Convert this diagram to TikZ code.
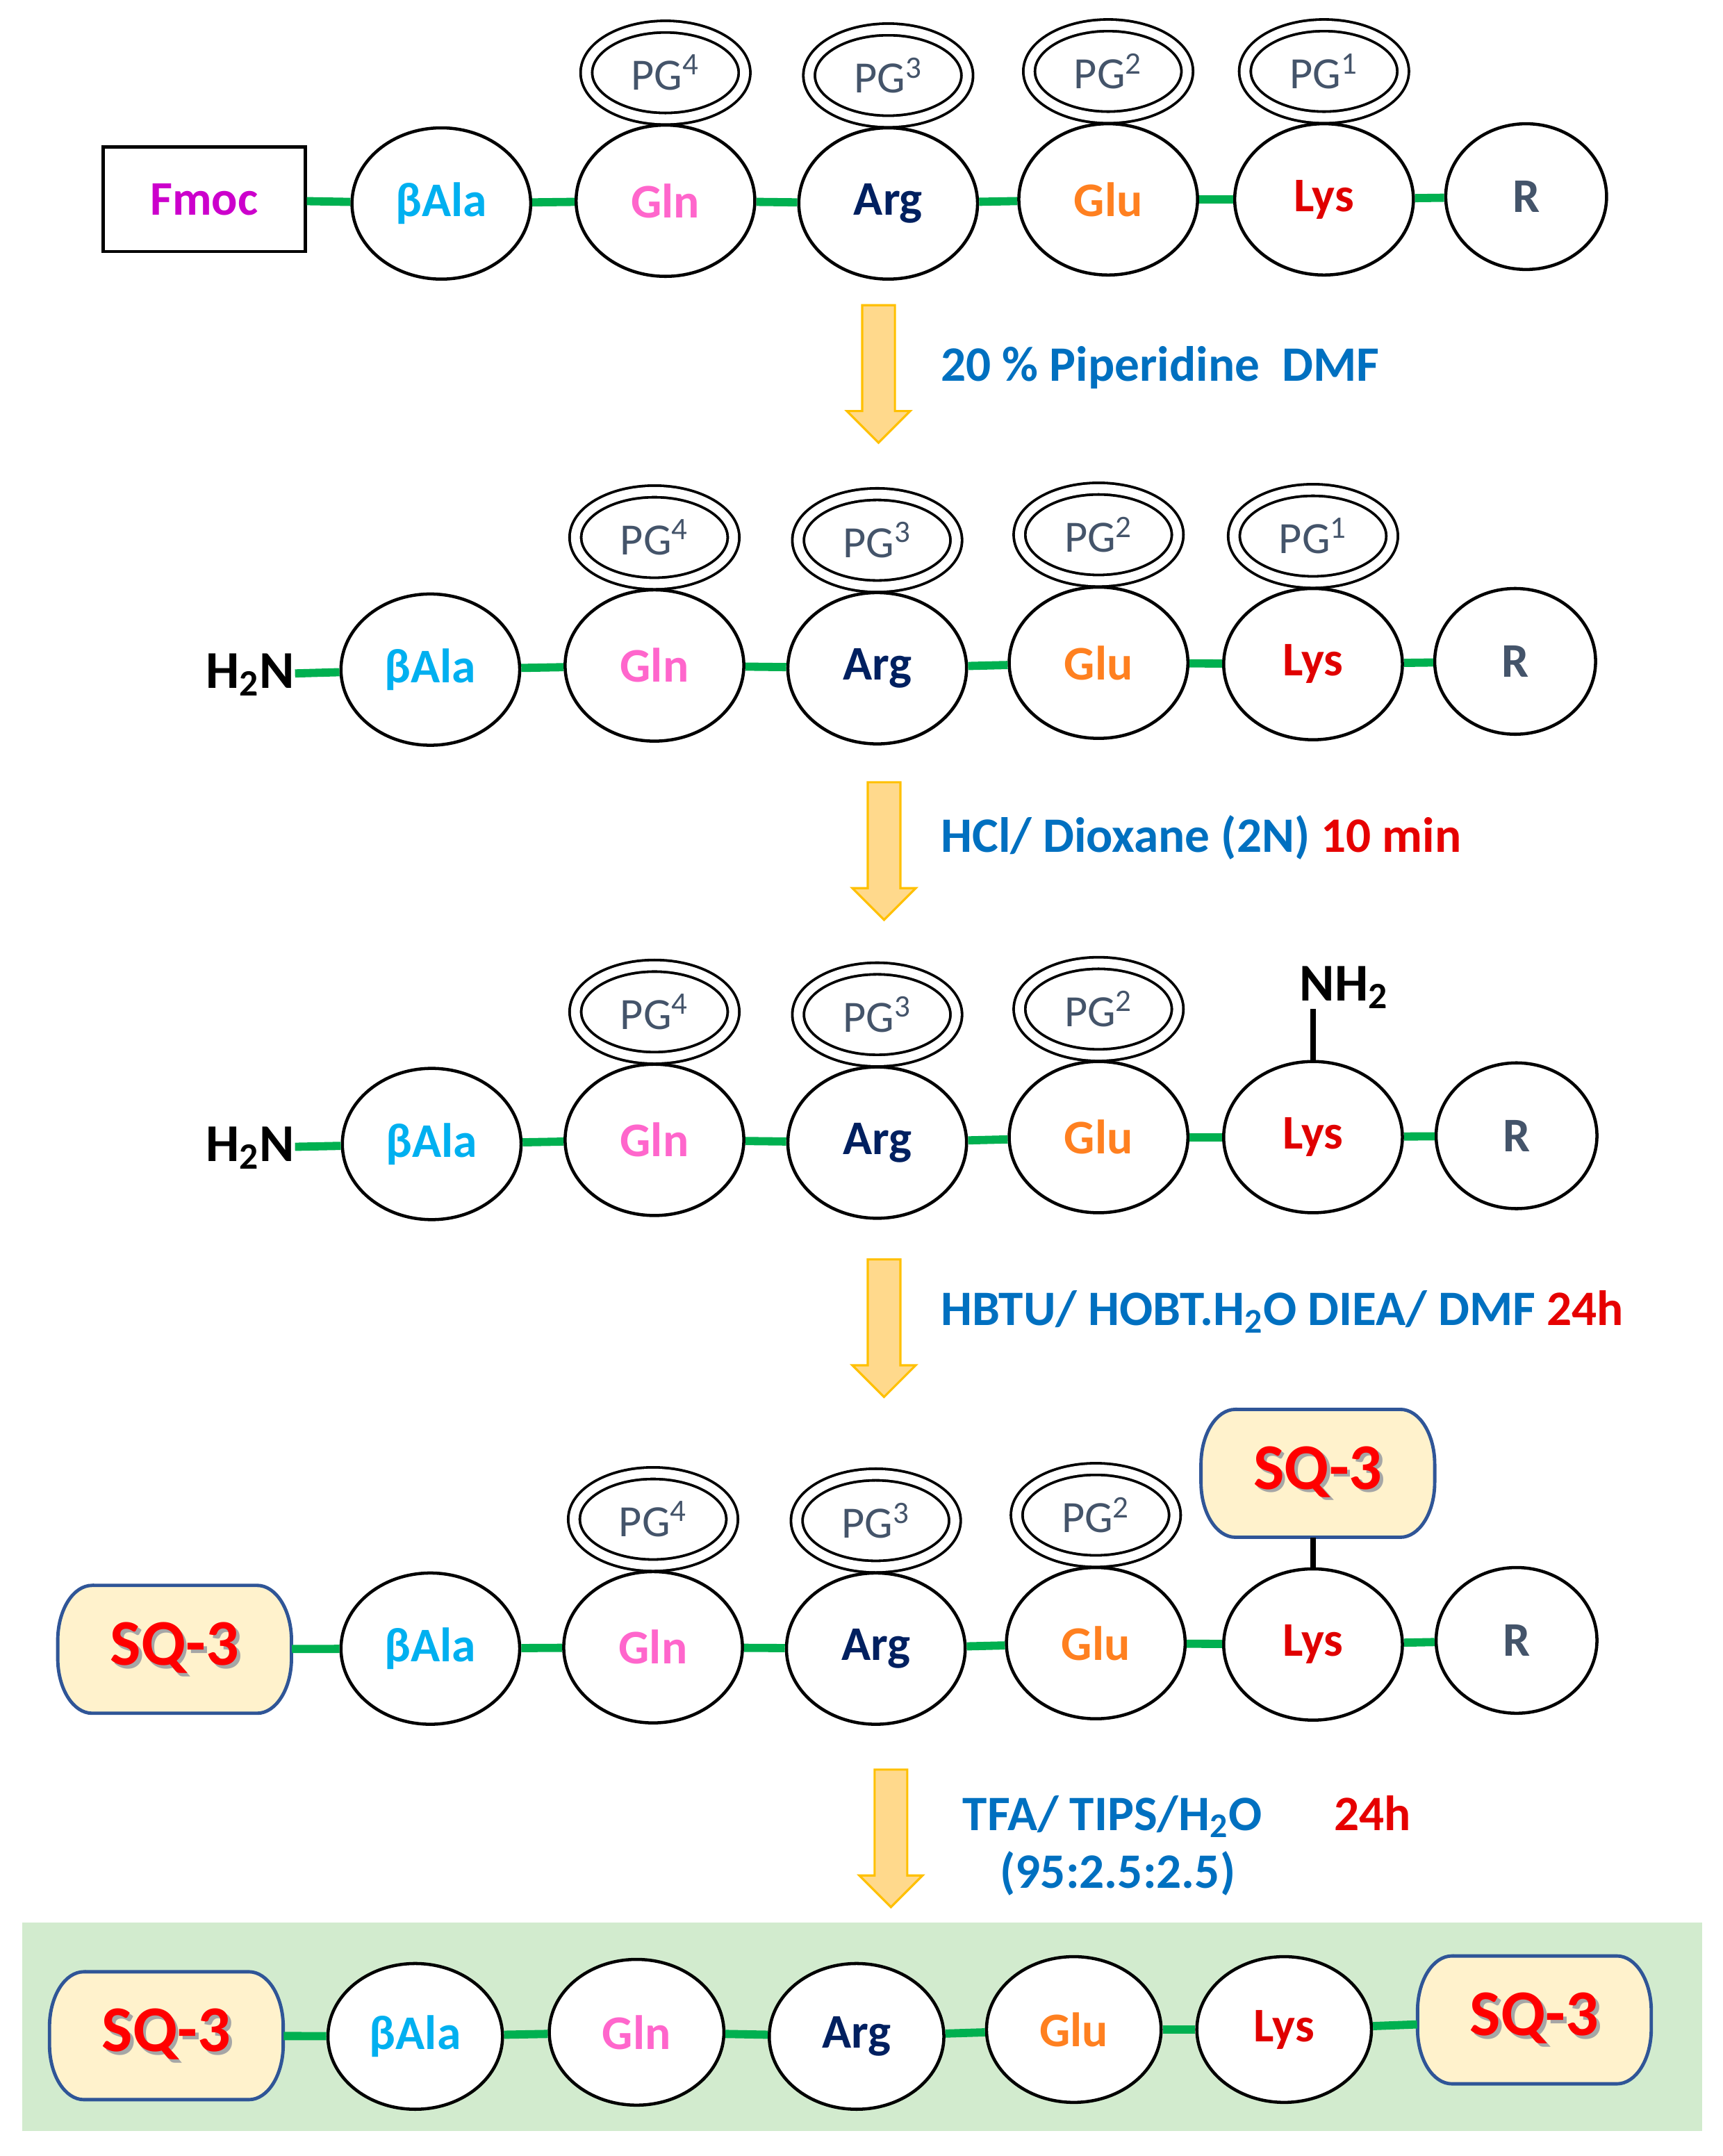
\documentclass[tikz,border=0pt]{standalone}
\usepackage{fontspec}
\setmainfont{Carlito}
\usetikzlibrary{shapes.geometric,shapes.arrows,positioning}
\definecolor{fmocpurple}{RGB}{204,0,204}
\definecolor{alablue}{RGB}{0,176,240}
\definecolor{glnpink}{RGB}{255,102,204}
\definecolor{argnavy}{RGB}{0,32,96}
\definecolor{gluorange}{RGB}{255,128,32}
\definecolor{lysred}{RGB}{224,0,0}
\definecolor{slate}{RGB}{68,84,106}
\definecolor{reagblue}{RGB}{0,112,192}
\definecolor{timered}{RGB}{230,0,0}
\definecolor{linkgreen}{RGB}{0,176,80}
\definecolor{sqfill}{RGB}{255,242,204}
\definecolor{sqline}{RGB}{47,85,151}
\definecolor{sqred}{RGB}{255,0,0}
\definecolor{arrowfill}{RGB}{255,217,140}
\definecolor{arrowline}{RGB}{255,192,0}
\definecolor{panelgreen}{RGB}{210,235,206}
\newcommand\shadowed[1]{\makebox[0pt][l]{\hspace{0.05em}\raisebox{-0.05em}{\color{black!35}#1}}#1}
% frame of the SQ-3 boxes, elliptic corners
\tikzset{
  sqframe/.pic={
    \filldraw[draw=sqline, fill=sqfill, line width=1.4pt]
      (-1.2,0.93) -- (1.2,0.93)
      arc[start angle=90, end angle=0, x radius=0.5, y radius=0.8] -- (1.7,-0.13)
      arc[start angle=0, end angle=-90, x radius=0.5, y radius=0.8] -- (-1.2,-0.93)
      arc[start angle=270, end angle=180, x radius=0.5, y radius=0.8] -- (-1.7,0.13)
      arc[start angle=180, end angle=90, x radius=0.5, y radius=0.8] -- cycle;
  }
}

\begin{document}
\begin{tikzpicture}[
  res/.style={
    draw,
    ellipse,
    line width=1.3pt,
    fill=white,
    inner sep=0pt,
    minimum width=2.6cm,
    minimum height=2.2cm,
    font=\fontsize{20}{24}\selectfont\bfseries
    },
  pg/.style={
    draw,
    ellipse,
    double,
    double distance=0.13cm,
    line width=1.1pt,
    fill=white,
    inner sep=0pt,
    minimum width=2.3cm,
    minimum height=1.34cm,
    text=slate,
    font=\fontsize{18.5}{20}\selectfont
    },
  sqbox/.style={
    rectangle,
    inner sep=0pt,
    minimum width=3.4cm,
    minimum height=1.86cm,
    text=sqred,
    font=\fontsize{27}{30}\selectfont\bfseries
    },
  link/.style={linkgreen, line width=3.4pt},
  bond/.style={black, line width=2.2pt},
  amine/.style={inner sep=0pt, font=\fontsize{22}{26}\selectfont\bfseries},
  reagent/.style={
    anchor=base west,
    inner sep=0pt,
    text=reagblue,
    font=\fontsize{20.5}{24}\selectfont\bfseries
    },
  steparrow/.style={
    single arrow,
    draw=arrowline,
    fill=arrowfill,
    line width=0.9pt,
    inner sep=0.22cm,
    minimum height=2cm,
    minimum width=0.92cm,
    single arrow head extend=0.22cm,
    shape border rotate=270
    }
]
\useasboundingbox (0,0) rectangle (25.06,-31.36);

% row 1: Fmoc protected chain
\node[draw, line width=1.3pt, minimum width=2.94cm, minimum height=1.52cm,
  text=fmocpurple, font=\fontsize{20}{24}\selectfont\bfseries]
  (r1fmoc) at (2.97,-2.90) {Fmoc};
\foreach \nm/\x/\y/\lab/\col in {ala/6.42/-2.96/βAla/alablue, gln/9.68/-2.92/Gln/glnpink,
    arg/12.92/-2.96/Arg/argnavy, glu/16.12/-2.90/Glu/gluorange, lys/19.26/-2.90/Lys/lysred}
  \node[res, text=\col] (r1\nm) at (\x,\y) {\lab};
\node[res, text=slate, minimum width=2.34cm, minimum height=2.12cm] (r1R) at (22.20,-2.86) {R};
\foreach \res/\n in {gln/4, arg/3, glu/2, lys/1}
  \node[pg, above=0.05cm of r1\res] (r1pg\n) {PG\textsuperscript{\n}};
\foreach \a/\b in {fmoc/ala, ala/gln, gln/arg, arg/glu, glu/lys, lys/R}
  \draw[link] (r1\a) -- (r1\b);

\node[steparrow] (s1) at (12.78,-5.32) {};
\node[reagent] (t1) at (13.68,-5.54) {20 \% Piperidine\ \ DMF};

% row 2: free N-terminus
\node[amine, anchor=base] (r2nh) at (3.64,-10.01) {H\textsubscript{2}N};
\foreach \nm/\x/\y/\lab/\col in {ala/6.26/-9.74/βAla/alablue, gln/9.52/-9.68/Gln/glnpink,
    arg/12.76/-9.72/Arg/argnavy, glu/15.98/-9.64/Glu/gluorange, lys/19.10/-9.66/Lys/lysred}
  \node[res, text=\col] (r2\nm) at (\x,\y) {\lab};
\node[res, text=slate, minimum width=2.34cm, minimum height=2.12cm] (r2R) at (22.04,-9.62) {R};
\foreach \res/\n in {gln/4, arg/3, glu/2, lys/1}
  \node[pg, above=0.05cm of r2\res] (r2pg\n) {PG\textsuperscript{\n}};
\foreach \a/\b in {nh/ala, ala/gln, gln/arg, arg/glu, glu/lys, lys/R}
  \draw[link] (r2\a) -- (r2\b);

\node[steparrow] (s2) at (12.86,-12.26) {};
\node[reagent] (t2) at (13.68,-12.40) {HCl/ Dioxane (2N) \textcolor{timered}{10 min}};

% row 3: Lys side chain deprotected
\node[amine, anchor=base] (r3nh) at (3.64,-16.89) {H\textsubscript{2}N};
\foreach \nm/\x/\y/\lab/\col in {ala/6.28/-16.64/βAla/alablue, gln/9.52/-16.58/Gln/glnpink,
    arg/12.76/-16.62/Arg/argnavy, glu/15.98/-16.54/Glu/gluorange, lys/19.10/-16.54/Lys/lysred}
  \node[res, text=\col] (r3\nm) at (\x,\y) {\lab};
\node[res, text=slate, minimum width=2.34cm, minimum height=2.12cm] (r3R) at (22.06,-16.52) {R};
\foreach \res/\n in {gln/4, arg/3, glu/2}
  \node[pg, above=0.05cm of r3\res] (r3pg\n) {PG\textsuperscript{\n}};
\node[amine, anchor=base west] (r3side) at (18.90,-14.56) {NH\textsubscript{2}};
\draw[bond] (r3lys.north) -- (r3lys.north |- r3side.south);
\foreach \a/\b in {nh/ala, ala/gln, gln/arg, arg/glu, glu/lys, lys/R}
  \draw[link] (r3\a) -- (r3\b);

\node[steparrow] (s3) at (12.86,-19.2) {};
\node[reagent] (t3) at (13.68,-19.28) {HBTU/ HOBT.H\textsubscript{2}O DIEA/ DMF \textcolor{timered}{24h}};

% row 4: SQ-3 coupled at both amines
\pic at (2.54,-23.99) {sqframe};
\node[sqbox] (r4sq) at (2.54,-23.99) {\shadowed{SQ-3}};
\foreach \nm/\x/\y/\lab/\col in {ala/6.26/-23.98/βAla/alablue, gln/9.50/-23.96/Gln/glnpink,
    arg/12.74/-23.98/Arg/argnavy, glu/15.94/-23.90/Glu/gluorange, lys/19.10/-23.92/Lys/lysred}
  \node[res, text=\col] (r4\nm) at (\x,\y) {\lab};
\node[res, text=slate, minimum width=2.34cm, minimum height=2.12cm] (r4R) at (22.06,-23.86) {R};
\foreach \res/\n in {gln/4, arg/3, glu/2}
  \node[pg, above=0.05cm of r4\res] (r4pg\n) {PG\textsuperscript{\n}};
\pic at (19.17,-21.43) {sqframe};
\node[sqbox] (r4side) at (19.17,-21.43) {\shadowed{SQ-3}};
\draw[bond] (r4lys.north) -- (r4lys.north |- r4side.south);
\foreach \a/\b in {sq/ala, ala/gln, gln/arg, arg/glu, glu/lys, lys/R}
  \draw[link] (r4\a) -- (r4\b);

\node[steparrow] (s4) at (12.96,-26.62) {};
\node[reagent] (t4) at (14.00,-26.62) {TFA/ TIPS/H\textsubscript{2}O};
\node[reagent, text=timered] (t4h) at (19.40,-26.62) {24h};
\node[reagent, anchor=base] (t4r) at (16.26,-27.46) {(95:2.5:2.5)};

% row 5: final product
\fill[panelgreen] (0.32,-27.96) rectangle (24.76,-31.00);
\pic at (2.42,-29.61) {sqframe};
\node[sqbox] (r5sq) at (2.42,-29.61) {\shadowed{SQ-3}};
\foreach \nm/\x/\y/\lab/\col in {ala/6.04/-29.62/βAla/alablue, gln/9.26/-29.56/Gln/glnpink,
    arg/12.46/-29.62/Arg/argnavy, glu/15.62/-29.52/Glu/gluorange, lys/18.68/-29.52/Lys/lysred}
  \node[res, text=\col, minimum width=2.54cm, minimum height=2.12cm] (r5\nm) at (\x,\y) {\lab};
\pic at (22.32,-29.38) {sqframe};
\node[sqbox] (r5end) at (22.32,-29.38) {\shadowed{SQ-3}};
\foreach \a/\b in {sq/ala, ala/gln, gln/arg, arg/glu, glu/lys, lys/end}
  \draw[link] (r5\a) -- (r5\b);
\end{tikzpicture}
\end{document}
